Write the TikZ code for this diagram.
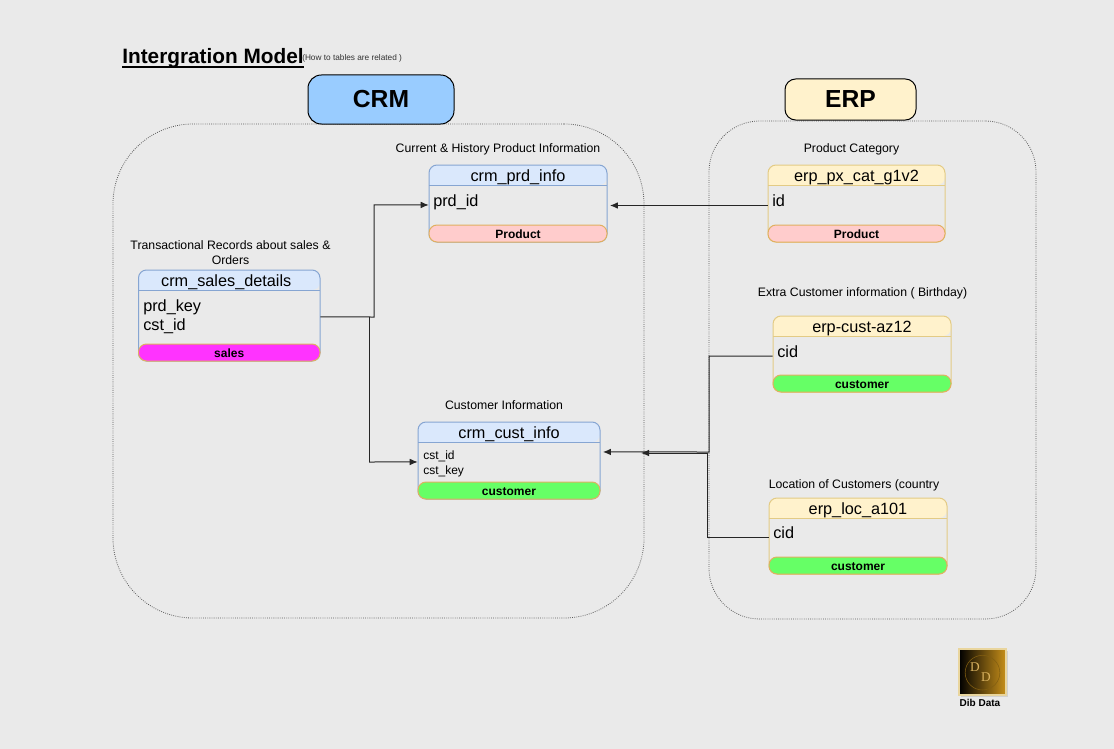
\documentclass[tikz,border=0pt]{standalone}
\usepackage{fontspec}
\setmainfont{Liberation Sans}
\newfontfamily\logoserif{Liberation Serif}
\usetikzlibrary{arrows.meta,fit,calc,shadows}
\definecolor{bgc}{HTML}{EAEAEA}
\definecolor{blueH}{HTML}{DAE8FC}
\definecolor{blueB}{HTML}{86A5D2}
\definecolor{yelH}{HTML}{FFF2CC}
\definecolor{yelB}{HTML}{E3CB85}
\definecolor{crmC}{HTML}{99CCFF}
\definecolor{pinkF}{HTML}{FFCCCC}
\definecolor{magF}{HTML}{FF33FF}
\definecolor{grnF}{HTML}{66FF66}
\definecolor{footB}{HTML}{E0B060}
\definecolor{gold}{HTML}{C8901A}
\newcommand{\fsz}[2]{\fontsize{#1}{#2}\selectfont}
\newcommand{\titleoffset}{0}
% name, left, top, right, bottom, theme, title, foot text, foot colour
\newcommand{\dbtable}[9]{%
  \node[fit={(#2,#3)(#4,#5)},inner sep=0pt,fill=bgc,rounded corners=6pt] (#1) {};
  \fill[#6H,rounded corners=6pt] (#2,#3+20) -- (#2,#3) -- (#4,#3) -- (#4,#3+20) [sharp corners] -- cycle;
  \draw[#6B,line width=.75pt] (#2,#3+20) -- (#4,#3+20);
  \node[fit={(#2,#3)(#4,#5)},inner sep=0pt,draw=#6B,line width=.75pt,rounded corners=6pt] {};
  \node[fit={(#2,#5-17)(#4,#5)},inner sep=0pt,fill=#9,draw=footB,line width=.75pt,rounded corners=6pt] (#1foot) {};
  \node[titletxt] (#1title) at ($(#2+\titleoffset,#3+2.5)!.5!(#4+\titleoffset,#3+22.5)$) {#7};
  \node[foottxt] (#1footlabel) at ([yshift=-.5pt]#1foot.center) {#8};
}
\tikzset{
  x=.75pt,y=-.75pt,
  titletxt/.style={font=\fsz{12.2}{14.25},text=black,inner sep=0pt},
  foottxt/.style={font=\fsz{9}{11}\bfseries,text=black,inner sep=0pt},
  fieldtxt/.style={font=\fsz{12.2}{14.25},align=left,anchor=north west,inner sep=0pt,text=black},
  smallfield/.style={font=\fsz{9}{11.25},align=left,anchor=north west,inner sep=0pt,text=black},
  caption/.style={font=\fsz{9.2}{11.25},align=center,inner sep=0pt,text=black},
  group/.style={draw=black!65,densely dotted,line width=.6pt},
  system/.style={draw=black,line width=.75pt},
  systxt/.style={font=\fsz{18.5}{22}\bfseries,inner sep=0pt,text=black},
  conn/.style={draw=black!85,line width=.75pt,-{Latex[length=6pt,width=5pt]}},
  plainconn/.style={draw=black!85,line width=.75pt},
}
\begin{document}
\begin{tikzpicture}
\useasboundingbox (0,0) rectangle (1114,749);
\fill[bgc] (0,0) rectangle (1114,749);

% groups
\node[group,fit={(113,124)(644,618)},inner sep=0pt,rounded corners=60pt] (crmgroup) {};
\node[group,fit={(709,121)(1036,619)},inner sep=0pt,rounded corners=38pt] (erpgroup) {};

% title
\node[anchor=base west,inner sep=0pt,font=\fsz{15.6}{18}\bfseries,text=black] (title) at (122,63.5) {Intergration Model};
\draw[black,line width=1.1pt] ($(title.base west)+(0,3.7)$) -- ($(title.base east)+(0,3.7)$);
\node[anchor=base west,inner sep=0pt,font=\fsz{6.2}{7},text=black!80] (subtitle) at (302,60.5) {(How to tables are related )};

% system headers
\node[system,fill=crmC,fit={(308,75)(454,124)},inner sep=0pt,rounded corners=10pt] (crm) {};
\node[systxt] (crmlabel) at (381,99.5) {CRM};
\node[system,fill=yelH,fit={(785,79)(916,120)},inner sep=0pt,rounded corners=8pt] (erp) {};
\node[systxt] (erplabel) at (850.5,99.5) {ERP};

% tables
\renewcommand{\titleoffset}{-3}
\dbtable{sales}{138.5}{270}{320}{361}{blue}{crm\_sales\_details}{sales}{magF}
\renewcommand{\titleoffset}{0}
\dbtable{prd}{429}{165}{607}{242}{blue}{crm\_prd\_info}{Product}{pinkF}
\dbtable{cust}{418}{422}{600}{499}{blue}{crm\_cust\_info}{customer}{grnF}
\dbtable{cat}{768}{165}{945}{242}{yel}{erp\_px\_cat\_g1v2}{Product}{pinkF}
\dbtable{az}{773}{316}{951}{392}{yel}{erp-cust-az12}{customer}{grnF}
\dbtable{loc}{769}{498}{947}{574}{yel}{erp\_loc\_a101}{customer}{grnF}

% fields
\node[fieldtxt] (salesf) at (143,299.5) {prd\_key\\cst\_id};
\node[fieldtxt] (prdf) at (433,194) {prd\_id};
\node[smallfield] (custf) at (423,450.5) {cst\_id\\cst\_key};
\node[fieldtxt] (catf) at (772,194) {id};
\node[fieldtxt] (azf) at (777,345) {cid};
\node[fieldtxt] (locf) at (773,526) {cid};

% captions
\node[caption] (cap1) at (498,149.5) {Current \& History Product Information};
\node[caption] (cap2) at (230.5,253) {Transactional Records about sales \&\\Orders};
\node[caption] (cap3) at (851.5,149.5) {Product Category};
\node[caption] (cap4) at (862.5,293) {Extra Customer information ( Birthday)};
\node[caption] (cap5) at (504,405.5) {Customer Information};
\node[caption] (cap6) at (854,485.5) {Location of Customers (country};

% connectors
\draw[conn] ([yshift=-1.1pt]sales.east) -- (374,317) |- ([yshift=-1.1pt]prd.west);
\draw[plainconn] (369,317) -- (369,462);
\draw[conn] (369,462) -- ([yshift=-1.1pt]cust.west);
\draw[conn,shorten >=2pt] ([yshift=-1.5pt]cat.west) -- ([yshift=-1.5pt]prd.east);
\draw[conn,shorten >=2pt] ([yshift=-1.5pt]az.west) -| (709,452) -- ([yshift=6.4pt]cust.east);
\draw[conn] ([yshift=-1pt]loc.west) -| (707,453) -- (641,453);

% logo
\fill[black!18] (961,651) rectangle (1008,697);
\node[fit={(959,649)(1006,695)},inner sep=0pt,draw=yelB!80!white,line width=.8pt,left color=black,right color=gold] (logo) {};
\draw[gold!65!black,line width=.4pt] ([yshift=-.5pt]logo.center) circle (13pt);
\node[font=\fsz{10}{12}\logoserif,text=gold!70!white,inner sep=0pt] (logod1) at (975,667) {D};
\node[font=\fsz{10}{12}\logoserif,text=gold!70!white,inner sep=0pt] (logod2) at (986,677) {D};
\node[font=\fsz{7.5}{9}\bfseries,inner sep=0pt,text=black] (logotxt) at (980,702.5) {Dib Data};
\end{tikzpicture}
\end{document}
